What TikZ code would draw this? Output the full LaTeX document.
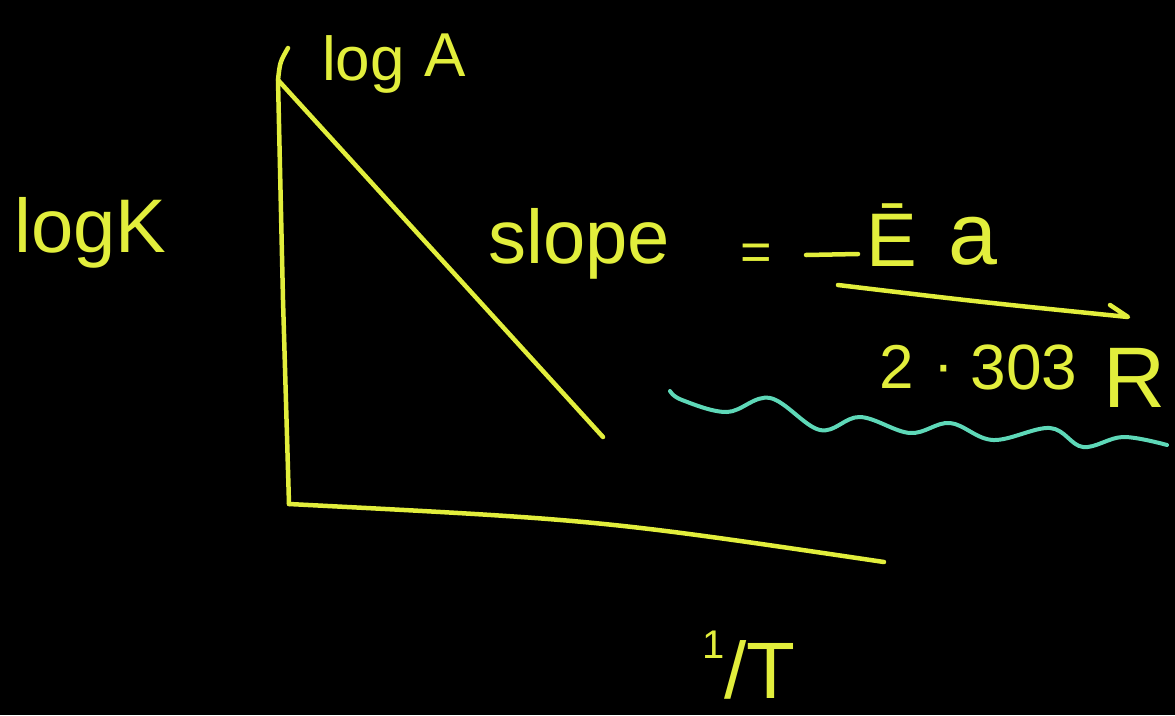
\documentclass[tikz,border=0pt]{standalone}
\usepackage{fontspec}
\setmainfont{Liberation Sans}
\definecolor{chalk}{HTML}{E2EE3C}
\definecolor{wavecol}{HTML}{5ED8B8}
\begin{document}
\begin{tikzpicture}[x=1pt,y=-1pt,
  ink/.style={draw=chalk,line width=4.5pt,line cap=round,line join=round},
  wave/.style={draw=wavecol,line width=4pt,line cap=round,line join=round},
  lbl/.style={text=chalk,inner sep=0pt,font=\fontsize{76}{76}\selectfont},
  small/.style={text=chalk,inner sep=0pt,font=\fontsize{62}{62}\selectfont}]
\fill[black] (0,0) rectangle (1175,715);
\useasboundingbox (0,0) rectangle (1175,715);

% axes and line
\coordinate (top) at (278,80);
\coordinate (tip) at (288,48);
\coordinate (origin) at (289,504);
\coordinate (xend) at (884,562);
\coordinate (lineend) at (603,437);
\draw[ink] (tip) .. controls (280,62) .. (top) -- (283,300) -- (origin);
\draw[ink] (origin) .. controls (600,520) .. (xend);
\draw[ink] (top) -- (lineend);

% labels
\node[lbl,anchor=base west] (logk) at (14,252) {logK};
\node[small,anchor=base west] (loga) at (322,80) {log};
\node[small,anchor=base west] (la) at (424,76) {A};
\node[lbl,anchor=base west] (slope) at (488,263) {slope};
\node[text=chalk,inner sep=0pt,font=\fontsize{54}{54}\selectfont,anchor=base] (eq) at (756,270) {=};
\node[lbl,anchor=base west] (ee) at (866,266) {Ē};
\node[text=chalk,inner sep=0pt,font=\fontsize{88}{88}\selectfont,anchor=base west] (aa) at (948,264) {a};
\coordinate (m1) at (806,255);
\coordinate (m2) at (858,254);
\draw[ink] (m1) -- (m2);

% fraction bar
\coordinate (f1) at (838,285);
\coordinate (f2) at (1128,317);
\coordinate (f3) at (1110,305);
\draw[ink] (f1) .. controls (980,302) .. (f2) -- (f3);

% denominator
\node[small,anchor=base] (two) at (897,388) {2};
\node[small,anchor=base] (dot) at (944,385) {·};
\node[small,anchor=base,font=\fontsize{64}{64}\selectfont] (n303) at (1024,389) {303};
\node[small,anchor=base,font=\fontsize{86}{86}\selectfont] (rr) at (1135,407) {R};

% wavy line
\draw[wave] plot[smooth,tension=0.6] coordinates {(670,391) (682,400) (727,412) (770,398) (820,430) (860,417) (910,433) (950,423) (993,440) (1050,428) (1083,447) (1123,437) (1167,445)};

% 1/T
\node[text=chalk,inner sep=0pt,font=\fontsize{80}{80}\selectfont,anchor=base west] (invt) at (702,698) {\raisebox{0.5em}{\fontsize{40}{40}\selectfont 1}/T};
\end{tikzpicture}
\end{document}
